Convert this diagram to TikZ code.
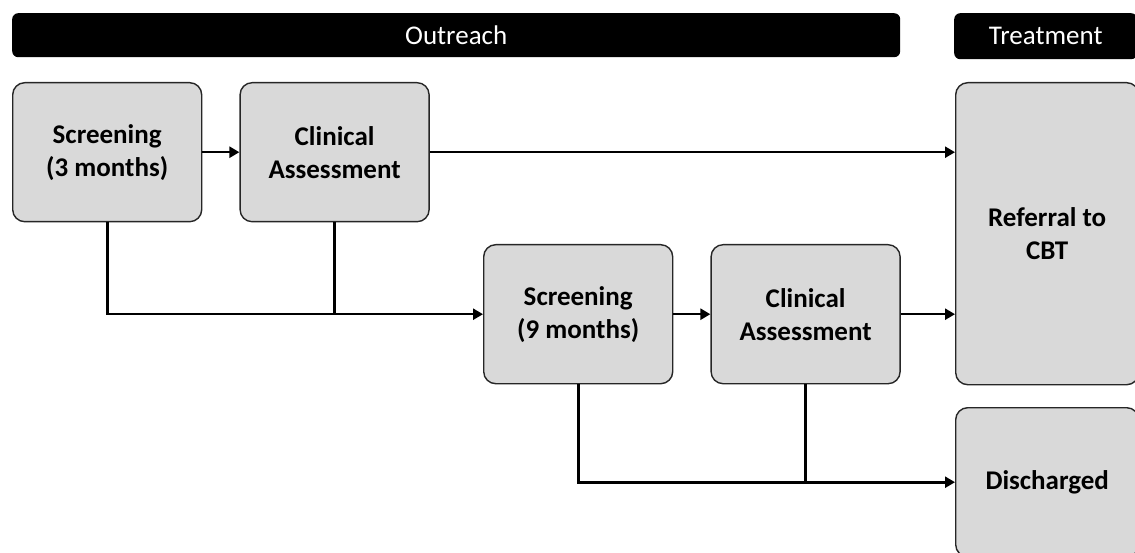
\documentclass[tikz,border=0pt]{standalone}
\usepackage{fontspec}
\setmainfont{Carlito}
\usetikzlibrary{positioning,arrows.meta}

\tikzset{
  caja/.style={rectangle, rounded corners=12pt, draw=black!85, line width=1.4pt,
    fill=black!15, minimum width=189pt, minimum height=139pt, inner sep=0pt,
    align=center, font=\fontsize{27}{33}\selectfont\bfseries},
  cabecera/.style={rectangle, rounded corners=6pt, fill=black, text=white,
    minimum height=44pt, inner sep=0pt, font=\fontsize{27}{33}\selectfont},
  flecha/.style={line width=2.6pt, -{Triangle[length=10pt,width=11pt]}},
  linea/.style={line width=2.6pt}
}

\begin{document}
\begin{tikzpicture}[x=1pt, y=-1pt]
  \useasboundingbox (0,0) rectangle (1135,553);

  % Cabeceras
  \node[cabecera, minimum width=888pt, anchor=north west] (outreach) at (12,13) {Outreach};
  \node[cabecera, minimum width=183pt, minimum height=46pt, anchor=north west] (treatment) at (954,13) {Treatment};

  % Cajas
  \node[caja, anchor=north west] (s3) at (12,82) {Screening\\(3 months)};
  \node[caja] (c3) [right=37pt of s3] {Clinical\\Assessment};
  \node[caja, anchor=north west] (s9) at (483,244) {Screening\\(9 months)};
  \node[caja] (c9) [right=37pt of s9] {Clinical\\Assessment};
  \node[caja, anchor=north west, minimum width=183pt, minimum height=302pt] (ref) at (955,82) {Referral to\\CBT};
  \node[caja, anchor=north west, minimum width=183pt, minimum height=149pt] (dis) at (955,407) {Discharged};

  \draw[flecha] (s3) -- (c3);
  \draw[flecha] (c3.east) -- (c3.east -| ref.west);
  \draw[flecha] (s3.south) |- (s9.west);
  \draw[linea] (c3.south) -- (c3.south |- s9.west);
  \draw[flecha] (s9) -- (c9);
  \draw[flecha] (c9.east) -- (c9.east -| ref.west);
  \draw[flecha] (s9.south) |- (dis.west);
  \draw[linea] (c9.south) -- (c9.south |- dis.west);
\end{tikzpicture}
\end{document}
